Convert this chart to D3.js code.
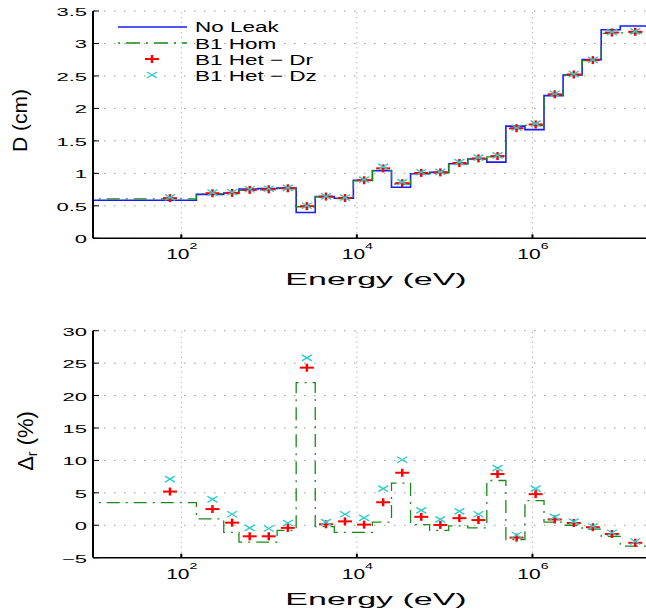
<!DOCTYPE html>
<html>
<head>
<meta charset="utf-8">
<script src="https://cdn.jsdelivr.net/npm/d3@7"></script>
<style>
  body{margin:0;background:#fff;}
  svg{display:block;}
  text{font-family:"Liberation Sans",Arial,Helvetica,sans-serif;fill:#000;}
</style>
</head>
<body>
<div id="chart"></div>
<script>
// group boundaries (eV), 24 groups
const groupBounds = [1e-5, 148.63, 304.33, 454.0, 748.52, 1234.1, 2034.7, 3354.6, 5530.8, 9118.8,
  15034, 24788, 40868, 67379, 111090, 183160, 301970, 497870, 820850, 1353400,
  2231300, 3678800, 6065300, 10000000, 19640000];

// top panel: D (cm)
const noLeak = [0.587, 0.677, 0.697, 0.758, 0.767, 0.773, 0.398, 0.642, 0.617, 0.893, 1.040, 0.785,
  0.994, 1.015, 1.147, 1.220, 1.173, 1.728, 1.673, 2.197, 2.514, 2.752, 3.211, 3.268];
const b1Hom = [0.608, 0.684, 0.689, 0.738, 0.747, 0.767, 0.486, 0.641, 0.610, 0.883, 1.045, 0.836,
  0.995, 1.007, 1.146, 1.215, 1.254, 1.690, 1.737, 2.208, 2.514, 2.735, 3.156, 3.163];
const b1HetDr = [0.618, 0.694, 0.700, 0.745, 0.754, 0.770, 0.495, 0.643, 0.621, 0.894, 1.077, 0.849,
  1.007, 1.015, 1.160, 1.230, 1.266, 1.695, 1.753, 2.217, 2.523, 2.744, 3.168, 3.180];
const b1HetDz = [0.629, 0.704, 0.709, 0.755, 0.763, 0.776, 0.501, 0.645, 0.627, 0.903, 1.099, 0.864,
  1.017, 1.024, 1.172, 1.241, 1.276, 1.702, 1.767, 2.226, 2.528, 2.748, 3.174, 3.186];

// bottom panel: relative deviation (%)
const devHom = [3.5, 1.0, -1.1, -2.6, -2.6, -0.8, 22.0, -0.2, -1.1, -1.1, 0.5, 6.5,
  0.1, -0.8, -0.1, -0.4, 6.9, -2.2, 3.8, 0.5, 0.0, -0.6, -1.7, -3.2];
const devDr = [5.2, 2.5, 0.4, -1.7, -1.7, -0.4, 24.3, 0.15, 0.6, 0.1, 3.55, 8.1,
  1.3, 0.05, 1.1, 0.8, 7.9, -1.9, 4.8, 0.9, 0.35, -0.3, -1.35, -2.7];
const devDz = [7.1, 4.0, 1.7, -0.4, -0.5, 0.35, 25.8, 0.5, 1.7, 1.15, 5.65, 10.1,
  2.3, 0.9, 2.15, 1.7, 8.8, -1.5, 5.65, 1.3, 0.55, -0.15, -1.15, -2.5];

const xTicks = [1e2, 1e4, 1e6];
const topTicks = [0, 0.5, 1, 1.5, 2, 2.5, 3, 3.5];
const botTicks = [-5, 0, 5, 10, 15, 20, 25, 30];
const legendLabels = ["No Leak", "B1 Hom", "B1 Het \u2212 Dr", "B1 Het \u2212 Dz"];

const W = 646, H = 614;
const blue = "#1a1aff", green = "#188a18", red = "#ff0000", cyan = "#2ccccc";

const svg = d3.select("#chart").append("svg")
  .attr("width", W).attr("height", H);

const x = d3.scaleLog().domain([10, 19640000]).range([93.5, 646]);

svg.append("defs").append("clipPath").attr("id", "plotClip")
  .append("rect").attr("x", 93.5).attr("y", 0).attr("width", 560).attr("height", H);

// stretched text helper (reference glyphs are wide)
function wideText(g, str, tx, ty, size, sx, anchor){
  return g.append("text")
    .attr("transform", "translate(" + tx + "," + ty + ") scale(" + sx + ",1)")
    .attr("text-anchor", anchor || "start")
    .style("font-size", size + "px")
    .text(str);
}

function stepPath(vals, y){
  const pts = vals.map((v, i) => [groupBounds[i], v]);
  pts.push([groupBounds[groupBounds.length - 1], vals[vals.length - 1]]);
  return d3.line().curve(d3.curveStepAfter)
    .x(d => x(d[0])).y(d => y(d[1]))(pts);
}

function mid(i){ return (groupBounds[i] + groupBounds[i + 1]) / 2; }

function drawPlus(g, cx, cy){
  g.append("line").attr("x1", cx - 7).attr("x2", cx + 7).attr("y1", cy).attr("y2", cy)
    .attr("stroke", red).attr("stroke-width", 2);
  g.append("line").attr("x1", cx).attr("x2", cx).attr("y1", cy - 4).attr("y2", cy + 4)
    .attr("stroke", red).attr("stroke-width", 2.5);
}

function drawCross(g, cx, cy){
  g.append("path")
    .attr("d", "M" + (cx - 5) + "," + (cy - 3) + "L" + (cx + 5) + "," + (cy + 3) +
      "M" + (cx - 5) + "," + (cy + 3) + "L" + (cx + 5) + "," + (cy - 3))
    .attr("stroke", cyan).attr("stroke-width", 1.4).attr("fill", "none");
}

function drawPanel(y, ticks, fmt, axisY, series){
  const g = svg.append("g");

  // grid
  g.selectAll(".hg").data(ticks).enter().append("line")
    .attr("x1", 94).attr("x2", 646)
    .attr("y1", d => y(d)).attr("y2", d => y(d))
    .attr("stroke", "#999").attr("stroke-width", 1).attr("stroke-dasharray", "1.5,8.5");
  g.selectAll(".vg").data(xTicks).enter().append("line")
    .attr("x1", d => x(d)).attr("x2", d => x(d))
    .attr("y1", y(ticks[0])).attr("y2", y(ticks[ticks.length - 1]))
    .attr("stroke", "#999").attr("stroke-width", 1).attr("stroke-dasharray", "1,4");

  const lines = g.append("g").attr("clip-path", "url(#plotClip)");
  series.lines.forEach(s => {
    lines.append("path")
      .attr("d", stepPath(s.vals, y))
      .attr("fill", "none")
      .attr("stroke", s.color)
      .attr("stroke-width", s.width)
      .attr("stroke-dasharray", s.dash || null);
  });

  series.dr.forEach((v, i) => drawPlus(g, x(mid(i)), y(v)));
  series.dz.forEach((v, i) => drawCross(g, x(mid(i)), y(v)));

  // axes
  g.append("line").attr("x1", 93).attr("x2", 646).attr("y1", axisY).attr("y2", axisY)
    .attr("stroke", "#000").attr("stroke-width", 1.6);
  g.append("line").attr("x1", 93).attr("x2", 93).attr("y1", y(ticks[ticks.length - 1]))
    .attr("y2", axisY).attr("stroke", "#000").attr("stroke-width", 2);

  ticks.forEach(t => {
    g.append("line").attr("x1", 93).attr("x2", 99).attr("y1", y(t)).attr("y2", y(t))
      .attr("stroke", "#000").attr("stroke-width", 1);
    wideText(g, fmt(t), 87, y(t) + 5, 11, 2, "end");
  });

  xTicks.forEach(t => {
    g.append("line").attr("x1", x(t)).attr("x2", x(t)).attr("y1", axisY).attr("y2", axisY - 4)
      .attr("stroke", "#000").attr("stroke-width", 2);
    const lab = g.append("text")
      .attr("transform", "translate(" + (x(t) + 0.5) + "," + (axisY + 21) + ") scale(1.5,1)")
      .attr("text-anchor", "middle")
      .style("font-size", "14px");
    lab.append("tspan").text("10");
    lab.append("tspan").attr("dy", -10).style("font-size", "9.5px").text(Math.round(Math.log10(t)));
  });

  wideText(g, "Energy (eV)", 376, axisY + 47, 17, 2, "middle");
  return g;
}

// top panel
const yTop = d3.scaleLinear().domain([0, 3.5]).range([238.3, 11]);
const topPanel = drawPanel(yTop, topTicks, d => String(d), 238.3, {
  lines: [
    {vals: noLeak, color: blue, width: 1.6},
    {vals: b1Hom, color: green, width: 1.3, dash: "13,6,2,6"}
  ],
  dr: b1HetDr, dz: b1HetDz
});

topPanel.append("text")
  .attr("transform", "translate(27,120.5) rotate(-90)")
  .attr("text-anchor", "middle")
  .attr("textLength", 63).attr("lengthAdjust", "spacingAndGlyphs")
  .style("font-size", "20px")
  .text("D (cm)");

// legend
const leg = svg.append("g");
leg.append("line").attr("x1", 118).attr("x2", 187).attr("y1", 27).attr("y2", 27)
  .attr("stroke", blue).attr("stroke-width", 1.4);
leg.append("line").attr("x1", 118).attr("x2", 187).attr("y1", 43).attr("y2", 43)
  .attr("stroke", green).attr("stroke-width", 1.3).attr("stroke-dasharray", "2,6,14,6");
drawPlus(leg, 152, 59);
drawCross(leg, 152, 75);
legendLabels.forEach((l, i) => wideText(leg, l, 195, 32.3 + i * 16.2, 15, 1.5, "start"));

// bottom panel
const yBot = d3.scaleLinear().domain([-5, 30]).range([557.7, 330.7]);
const botPanel = drawPanel(yBot, botTicks, d => d3.format("")(d), 557.7, {
  lines: [
    {vals: devHom, color: green, width: 1.3, dash: "13,6,2,6"}
  ],
  dr: devDr, dz: devDz
});

const yl = botPanel.append("text")
  .attr("transform", "translate(33,441) rotate(-90)")
  .attr("text-anchor", "middle")
  .style("font-size", "22px");
yl.append("tspan").text("\u0394");
yl.append("tspan").attr("dy", 4).style("font-size", "14px").text("r");
yl.append("tspan").attr("dy", -4).text(" (%)");
</script>
</body>
</html>
